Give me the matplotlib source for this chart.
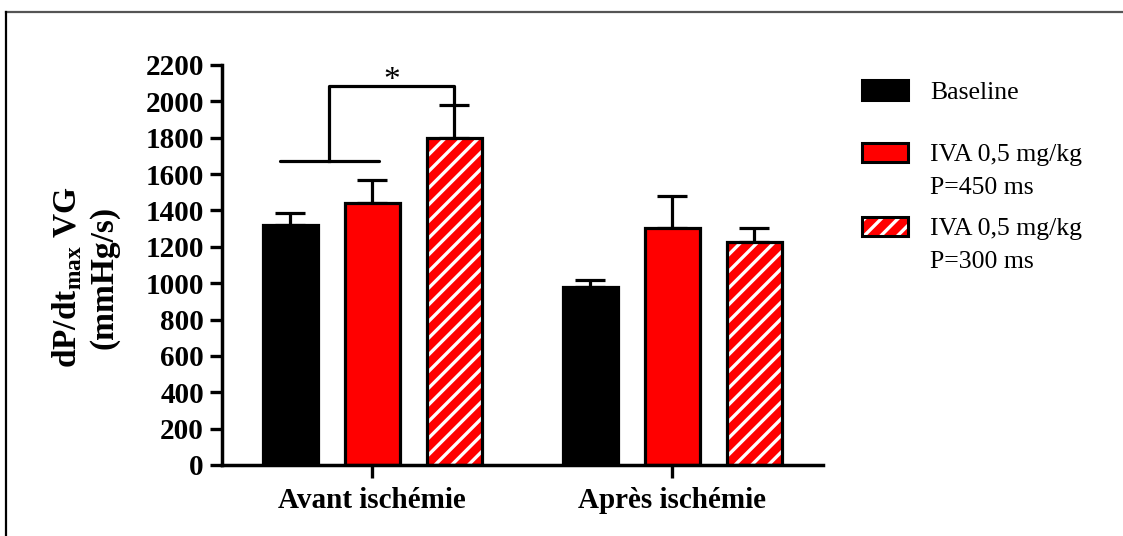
import numpy as np
import matplotlib
matplotlib.use("Agg")
import matplotlib.pyplot as plt
from matplotlib.lines import Line2D
from matplotlib.patches import Rectangle

plt.rcParams['font.family'] = ['Liberation Serif', 'DejaVu Serif']
plt.rcParams['mathtext.fontset'] = 'custom'
plt.rcParams['mathtext.rm'] = 'Liberation Serif'
plt.rcParams['mathtext.bf'] = 'Liberation Serif:bold'
plt.rcParams['hatch.linewidth'] = 2.4

# donnees
groupes = ["Avant ischémie", "Après ischémie"]
series = ["Baseline", "IVA 0,5 mg/kg\nP=450 ms", "IVA 0,5 mg/kg\nP=300 ms"]
moyennes = {
    "Baseline": [1320, 980],
    "IVA450": [1440, 1305],
    "IVA300": [1800, 1228],
}
esm = {
    "Baseline": [65, 40],
    "IVA450": [128, 175],
    "IVA300": [180, 77],
}
yticks = list(range(0, 2201, 200))
# crochet de significativite (avant ischemie)
crochet_bas = 1672
crochet_haut = 2082
etoile_y = 2115

rouge = "#ff0000"
lw = 2.3

fig = plt.figure(figsize=(11.23, 5.36), dpi=100)
ax = fig.add_axes([0.1977, 0.1325, 0.5352, 0.7463])

centres = np.array([0.0, 3.66])
larg = 0.67
cles = ["Baseline", "IVA450", "IVA300"]
for i, k in enumerate(cles):
    x = centres + (i - 1)
    if k == "Baseline":
        ax.bar(x, moyennes[k], larg, color="black", edgecolor="black", linewidth=lw, zorder=2)
    elif k == "IVA450":
        ax.bar(x, moyennes[k], larg, color=rouge, edgecolor="black", linewidth=lw, zorder=2)
    else:
        ax.bar(x, moyennes[k], larg, color=rouge, edgecolor="white", hatch="//", linewidth=0, zorder=2)
        ax.bar(x, moyennes[k], larg, fill=False, edgecolor="black", linewidth=lw, zorder=3)
    ax.errorbar(x, moyennes[k], yerr=[np.zeros(2), esm[k]], fmt="none", ecolor="black",
                elinewidth=lw, capsize=10.5, capthick=lw, zorder=1)

# crochet
xm = centres[0] - 0.52
ax.plot([xm - 0.6, xm + 0.6], [crochet_bas, crochet_bas], color="black", lw=lw,
        solid_capstyle="round", clip_on=False)
ax.plot([xm, xm, centres[0] + 1, centres[0] + 1],
        [crochet_bas, crochet_haut, crochet_haut, moyennes["IVA300"][0] + esm["IVA300"][0] + 10],
        color="black", lw=lw, solid_joinstyle="round", clip_on=False)
ax.text((xm + centres[0] + 1) / 2, etoile_y, "*", ha="center", va="center", fontsize=24,
        clip_on=False)

ax.set_xlim(-1.83, 5.5)
ax.set_ylim(0, 2200)
ax.set_yticks(yticks)
ax.set_xticks(centres)
ax.set_xticklabels(groupes, fontsize=21, fontweight="bold")
for t in ax.get_yticklabels():
    t.set_fontsize(21)
    t.set_fontweight("bold")
ax.tick_params(axis="both", direction="out", length=9, width=2.4, pad=4)
ax.tick_params(axis="x", pad=7)
for s in ["top", "right"]:
    ax.spines[s].set_visible(False)
for s in ["left", "bottom"]:
    ax.spines[s].set_linewidth(2.5)

ax.set_ylabel("dP/dt$_{\\mathbf{max}}$ VG\n(mmHg/s)", fontsize=24, fontweight="bold",
              va="center", ha="center", multialignment="center", linespacing=1.2)
ax.yaxis.set_label_coords(-0.228, 0.47)

# legende
leg_x0, leg_w, leg_h = 0.7676, 0.041, 0.036
leg_y = [0.832, 0.716, 0.578]
styles = [dict(fc="black", hatch=None), dict(fc=rouge, hatch=None), dict(fc=rouge, hatch="//")]
for lab, yy, st in zip(series, leg_y, styles):
    if st["hatch"]:
        fig.patches.append(Rectangle((leg_x0, yy - leg_h / 2), leg_w, leg_h, transform=fig.transFigure,
                                     facecolor=st["fc"], edgecolor="white", hatch=st["hatch"], linewidth=0))
        fig.patches.append(Rectangle((leg_x0, yy - leg_h / 2), leg_w, leg_h, transform=fig.transFigure,
                                     fill=False, edgecolor="black", linewidth=2.2))
    else:
        fig.patches.append(Rectangle((leg_x0, yy - leg_h / 2), leg_w, leg_h, transform=fig.transFigure,
                                     facecolor=st["fc"], edgecolor="black", linewidth=2.2))
    for j, l in enumerate(lab.split("\n")):
        fig.text(0.828, yy - 0.006 - j * 0.0615, l, fontsize=18.5, ha="left", va="center")

# cadre
fig.add_artist(Line2D([6 / 1123, 1], [1 - 12 / 536, 1 - 12 / 536], color="#555555", lw=1.6,
                      transform=fig.transFigure))
fig.add_artist(Line2D([6 / 1123, 6 / 1123], [0, 1 - 12 / 536], color="black", lw=1.6,
                      transform=fig.transFigure))

fig.savefig("out.png", dpi=100)
